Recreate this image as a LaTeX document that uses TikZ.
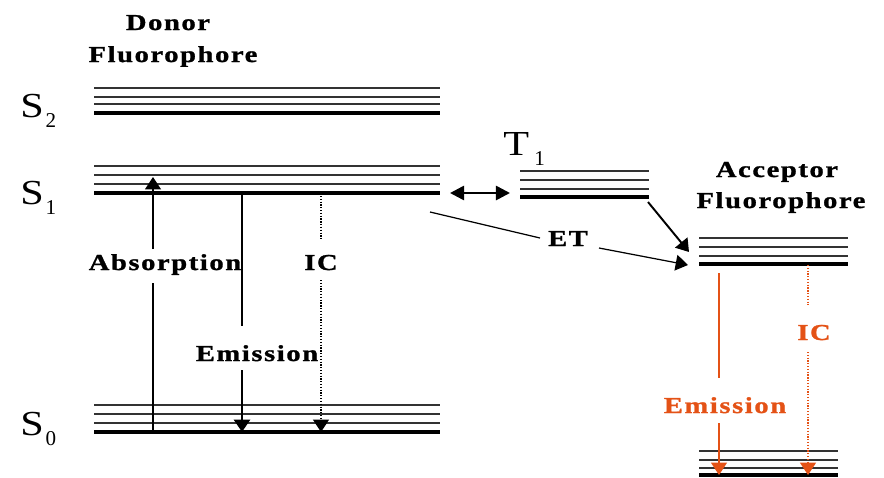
\documentclass[tikz,border=0pt]{standalone}
\usepackage{fontspec}
\setmainfont{Liberation Serif}
\newfontfamily\etiq[LetterSpace=7,FakeStretch=1.25,BoldFeatures={FakeBold=1.2}]{Liberation Serif}
\newfontfamily\etatfont[FakeStretch=1.2]{Liberation Serif}
\usetikzlibrary{arrows.meta}
\definecolor{orangeAcc}{RGB}{228,82,22}
\newcommand{\etat}[2]{{\etatfont\fontsize{20}{20}\selectfont #1}\kern1pt\raisebox{-5.7pt}{\fontsize{12}{12}\selectfont #2}}

\begin{document}
\begin{tikzpicture}[x=0.02cm, y=-0.02cm,
    niveau/.style={line width=0.9pt, black!80},
    fond/.style={line width=2pt},
    lbl/.style={font=\etiq\bfseries\fontsize{13}{13}\selectfont, anchor=base, inner sep=0pt},
    pointe/.style={-{Triangle[length=7pt,width=9pt]}},
    pointille/.style={dash pattern=on 0.7pt off 0.9pt, line width=0.8pt}]
        \useasboundingbox (0,0) rectangle (884,477);

        % Niveaux du donneur
        \draw[niveau] (94,88) -- (440,88) (94,97) -- (440,97) (94,104) -- (440,104);
        \draw[fond] (94,113) -- (440,113);
        \draw[niveau] (94,166) -- (440,166) (94,175) -- (440,175) (94,184) -- (440,184);
        \draw[fond] (94,193) -- (440,193);
        \draw[niveau] (94,405) -- (440,405) (94,414) -- (440,414) (94,423) -- (440,423);
        \draw[fond] (94,432) -- (440,432);

        % Niveau triplet
        \draw[niveau] (520,171) -- (649,171) (520,180) -- (649,180) (520,189) -- (649,189);
        \draw[fond] (520,197) -- (649,197);

        % Niveaux de l'accepteur
        \draw[niveau] (699,238) -- (848,238) (699,247) -- (848,247) (699,256) -- (848,256);
        \draw[fond] (699,264) -- (848,264);
        \draw[niveau] (699,451) -- (838,451) (699,460) -- (838,460) (699,468) -- (838,468);
        \draw[fond] (699,475) -- (838,475);

        % Labels des etats
        \node[anchor=base west, inner sep=0pt] (S2) at (20,117) {\etat{S}{2}};
        \node[anchor=base west, inner sep=0pt] (S1) at (20,204) {\etat{S}{1}};
        \node[anchor=base west, inner sep=0pt] (S0) at (20,435) {\etat{S}{0}};
        \node[anchor=base west, inner sep=0pt] (T1) at (503,155) {\etat{T}{\kern2pt 1}};

        % Titres
        \node[lbl] (donneur) at (168,30) {Donor};
        \node[lbl] (donneurFluo) at (173,62) {Fluorophore};
        \node[lbl] (accepteur) at (777,177) {Acceptor};
        \node[lbl] (accFluo) at (781,208) {Fluorophore};

        % Points des transitions
        \coordinate (abs0) at (153,432);
        \coordinate (abs1) at (153,283);
        \coordinate (abs2) at (153,249);
        \coordinate (abs3) at (153,177);
        \coordinate (emD0) at (242,193);
        \coordinate (emD1) at (242,326);
        \coordinate (emD2) at (242,370);
        \coordinate (emD3) at (242,432);
        \coordinate (icD0) at (321,196);
        \coordinate (icD1) at (321,240);
        \coordinate (icD2) at (321,280);
        \coordinate (icD3) at (321,432);
        \coordinate (isc0) at (450,193);
        \coordinate (isc1) at (510,193);
        \coordinate (tA0) at (648,202);
        \coordinate (tA1) at (689,252);
        \coordinate (et0) at (430,212);
        \coordinate (et1) at (540,238);
        \coordinate (et2) at (599,248);
        \coordinate (et3) at (688,265);
        \coordinate (emA0) at (719,273);
        \coordinate (emA1) at (719,378);
        \coordinate (emA2) at (719,423);
        \coordinate (emA3) at (719,475);
        \coordinate (icA0) at (808,265);
        \coordinate (icA1) at (808,305);
        \coordinate (icA2) at (808,352);
        \coordinate (icA3) at (808,475);

        % Transitions du donneur
        \draw[line width=0.6pt] (abs0) -- (abs1);
        \draw[line width=0.6pt, pointe] (abs2) -- (abs3);
        \draw[line width=1.6pt] (emD0) -- (emD1);
        \draw[line width=1.6pt, pointe] (emD2) -- (emD3);
        \draw[pointille] (icD0) -- (icD1);
        \draw[pointille, pointe] (icD2) -- (icD3);
        \node[lbl] (abs) at (165,270) {Absorption};
        \node[lbl] (emD) at (257,361) {Emission};
        \node[lbl] (icD) at (321,270) {IC};

        % Transferts vers l'accepteur
        \draw[line width=1.5pt, {Triangle[length=8pt,width=8pt]}-{Triangle[length=8pt,width=8pt]}] (isc0) -- (isc1);
        \draw[line width=1.1pt, pointe] (tA0) -- (tA1);
        \draw[line width=0.7pt] (et0) -- (et1);
        \draw[line width=0.7pt, pointe] (et2) -- (et3);
        \node[lbl] (et) at (568,246) {ET};

        % Transitions de l'accepteur (orange)
        \draw[orangeAcc, line width=0.7pt] (emA0) -- (emA1);
        \draw[orangeAcc, line width=0.7pt, pointe] (emA2) -- (emA3);
        \draw[orangeAcc, pointille] (icA0) -- (icA1);
        \draw[orangeAcc, pointille, pointe] (icA2) -- (icA3);
        \node[lbl, orangeAcc] (emA) at (725,413) {Emission};
        \node[lbl, orangeAcc] (icA) at (814,340) {IC};
    \end{tikzpicture}
\end{document}
